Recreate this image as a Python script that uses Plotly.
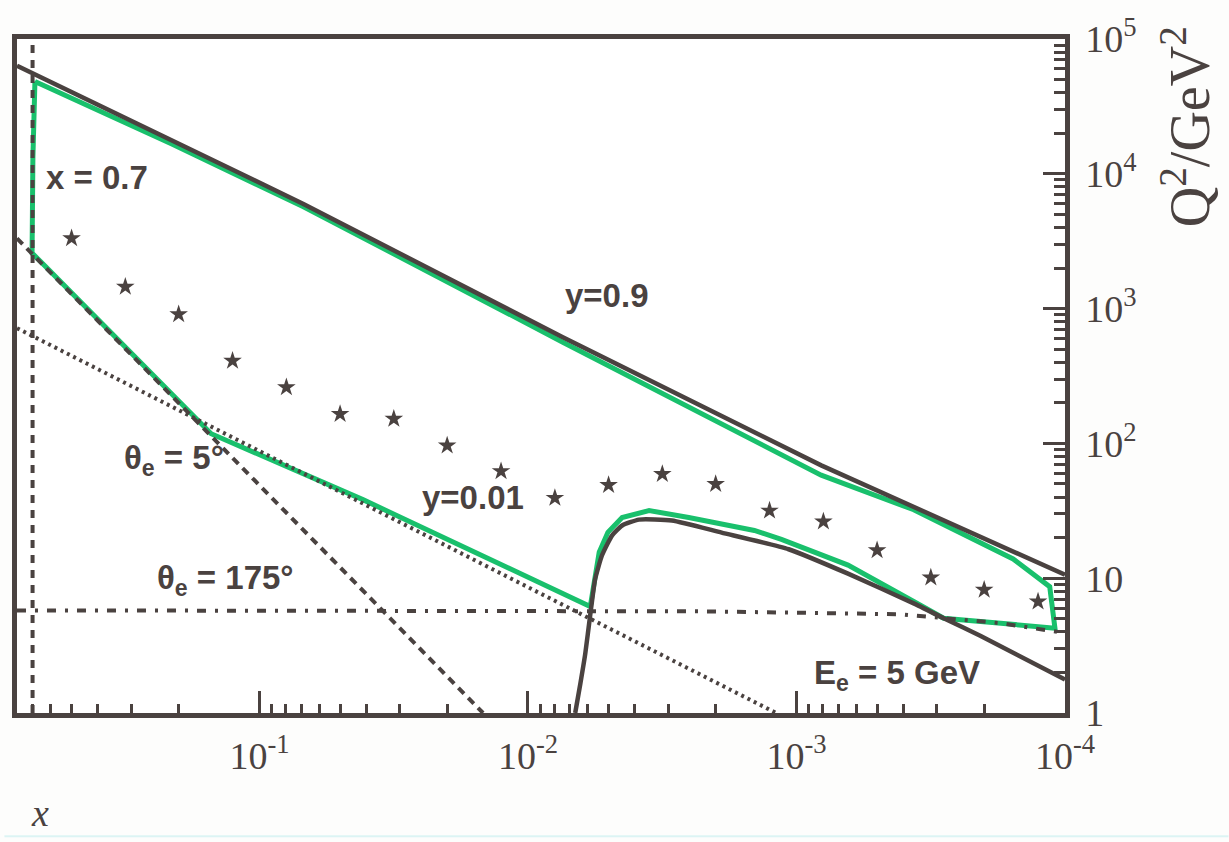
import numpy as np
import plotly.graph_objects as go

INK = "#4a4240"
GREEN = "#19c06c"

# ---- data ----
# y = 0.9 kinematic limit (solid)
x_y09 = [0.8, 0.213, 0.0686, 0.00745, 0.000809, 0.0001]
q2_y09 = [63400, 17900, 5980, 615, 68.7, 10.6]

# y = 0.01 (dotted)
x_y001 = [0.8, 0.00119]
q2_y001 = [716, 1.0]

# theta_e = 5 deg (dashed)
x_th5 = [0.8, 0.0147]
q2_th5 = [3320, 1.0]

# theta_e = 175 deg (dash-dot)
x_th175 = [0.8, 0.00225, 0.000409, 0.000283, 0.000174, 0.0001]
q2_th175 = [5.77, 5.68, 5.40, 5.05, 4.64, 3.92]

# x = 0.7 (dashed vertical)
x_x07 = [0.7, 0.7]
q2_x07 = [1.0, 100000]

# E_e = 5 GeV (solid curve)
x_ee = [0.00667, 0.00638, 0.00612, 0.00586, 0.00562, 0.00530, 0.00486, 0.00446,
        0.00386, 0.00291, 0.00190, 0.00107, 0.000643, 0.000366, 0.000283,
        0.000206, 0.0001]
q2_ee = [1.0, 1.66, 2.75, 5.40, 9.90, 14.8, 20.8, 24.6, 27.2, 26.8, 21.8,
         16.4, 10.8, 6.50, 5.05, 3.72, 1.77]

# accepted region boundary (green)
x_acc = [0.686, 0.213, 0.0686, 0.00745, 0.000809, 0.000366, 0.000156, 0.000114,
         0.000109, 0.000179, 0.000283, 0.000366, 0.000643, 0.001138, 0.001435,
         0.00252, 0.00354, 0.00446, 0.00504, 0.00543, 0.00566, 0.00586, 0.0410,
         0.1514, 0.629, 0.703, 0.698, 0.686]
q2_acc = [48400, 16700, 5700, 566, 58.1, 32.2, 13.9, 8.65,
          4.26, 4.64, 5.05, 6.72, 12.5, 19.4, 22.6,
          28.2, 31.7, 28.2, 21.9, 15.6, 9.4, 6.17, 38.1,
          118, 2070, 2580, 13200, 48400]

# star points
x_star = [0.501, 0.316, 0.200, 0.126, 0.0794, 0.0501, 0.0316, 0.0200, 0.0126,
          0.00794, 0.00501, 0.00316, 0.00200, 0.00126, 0.000794, 0.000501,
          0.000316, 0.000200, 0.000126]
q2_star = [3320, 1452, 908, 410, 261, 165, 152, 96.4, 62.2, 39.4, 49.1, 59.2,
           49.9, 31.7, 26.3, 16.1, 10.1, 8.2, 6.7]

# axis ticks
x_tickvals = [1e-4, 1e-3, 1e-2, 1e-1]
x_ticktext = ["10<sup>-4</sup>", "10<sup>-3</sup>", "10<sup>-2</sup>", "10<sup>-1</sup>"]
y_tickvals = [1, 10, 100, 1e3, 1e4, 1e5]
y_ticktext = ["1", "10", "10<sup>2</sup>", "10<sup>3</sup>", "10<sup>4</sup>", "10<sup>5</sup>"]

x_minor = [k * 10.0 ** n for n in (-4, -3, -2, -1) for k in range(2, 10) if k * 10.0 ** n < 0.79]
y_minor = [k * 10.0 ** n for n in range(0, 5) for k in range(2, 10)]

fig = go.Figure()

fig.add_trace(go.Scatter(x=x_acc, y=q2_acc, mode="lines",
                         line=dict(color=GREEN, width=5), hoverinfo="skip"))
fig.add_trace(go.Scatter(x=x_y09, y=q2_y09, mode="lines",
                         line=dict(color=INK, width=4.5)))
fig.add_trace(go.Scatter(x=x_y001, y=q2_y001, mode="lines",
                         line=dict(color=INK, width=4, dash="3px,4px")))
fig.add_trace(go.Scatter(x=x_th5, y=q2_th5, mode="lines",
                         line=dict(color=INK, width=4, dash="8px,6px")))
fig.add_trace(go.Scatter(x=x_th175, y=q2_th175, mode="lines",
                         line=dict(color=INK, width=4, dash="9px,9px,3px,9px")))
fig.add_trace(go.Scatter(x=x_x07, y=q2_x07, mode="lines",
                         line=dict(color=INK, width=4, dash="8px,7px")))
fig.add_trace(go.Scatter(x=x_ee, y=q2_ee, mode="lines",
                         line=dict(color=INK, width=4.5, shape="spline", smoothing=0.5)))
fig.add_trace(go.Scatter(x=x_star, y=q2_star, mode="markers",
                         marker=dict(symbol="star", size=14, color=INK,
                                     line=dict(width=0))))

label_font = dict(family="Liberation Sans", size=33, color=INK)
labels = [
    ("y=0.9", 0.00507, 1250),
    ("y=0.01", 0.0160, 39.4),
    ("x = 0.7", 0.404, 9440),
    ("θ<sub>e</sub> = 5°", 0.2076, 74.8),
    ("θ<sub>e</sub> = 175°", 0.1333, 9.73),
    ("E<sub>e</sub> = 5 GeV", 0.000423, 1.90),
]
for txt, lx, ly in labels:
    fig.add_annotation(x=np.log10(lx), y=np.log10(ly), xref="x", yref="y",
                       xanchor="center", yanchor="middle",
                       text="<b>" + txt + "</b>", showarrow=False, font=label_font)

# axis titles
fig.add_annotation(x=0.022, y=-0.149, xref="paper", yref="paper",
                   xanchor="center", yanchor="middle",
                   text="<i>x</i>", showarrow=False,
                   font=dict(family="Liberation Serif", size=38, color=INK))
fig.add_annotation(x=1.116, y=0.87, xref="paper", yref="paper",
                   xanchor="center", yanchor="middle",
                   text="Q<sup>2</sup>/GeV<sup>2</sup>", showarrow=False, textangle=-90,
                   font=dict(family="Liberation Serif", size=56, color=INK))

fig.add_shape(type="line", xref="paper", yref="paper", x0=-0.012, x1=1.156,
              y0=-0.183, y1=-0.183, line=dict(color="#dcf4f4", width=2))

tickfont = dict(family="Liberation Serif", size=38, color=INK)
fig.update_xaxes(type="log", range=[np.log10(0.8), -4], showgrid=False, zeroline=False,
                 showline=True, linewidth=4.5, linecolor=INK, mirror=True,
                 ticks="inside", ticklen=22, tickwidth=3, tickcolor=INK,
                 tickmode="array", tickvals=x_tickvals, ticktext=x_ticktext,
                 tickfont=tickfont, ticklabelstandoff=6,
                 minor=dict(tickmode="array", tickvals=x_minor, ticks="inside",
                            ticklen=9, tickwidth=3, tickcolor=INK))
fig.update_yaxes(type="log", range=[0, 5], side="right", showgrid=False, zeroline=False,
                 showline=True, linewidth=4.5, linecolor=INK, mirror=True,
                 ticks="inside", ticklen=22, tickwidth=3, tickcolor=INK,
                 tickmode="array", tickvals=y_tickvals, ticktext=y_ticktext,
                 tickfont=tickfont, ticklabelstandoff=8,
                 minor=dict(tickmode="array", tickvals=y_minor, ticks="inside",
                            ticklen=11, tickwidth=3, tickcolor=INK))

fig.update_layout(width=1229, height=842, showlegend=False,
                  margin=dict(l=12, r=164, t=30, b=129),
                  paper_bgcolor="#fdfdfc", plot_bgcolor="#ffffff")

fig.write_html("out.html", include_plotlyjs=True, full_html=True,
               config={"displayModeBar": False})
